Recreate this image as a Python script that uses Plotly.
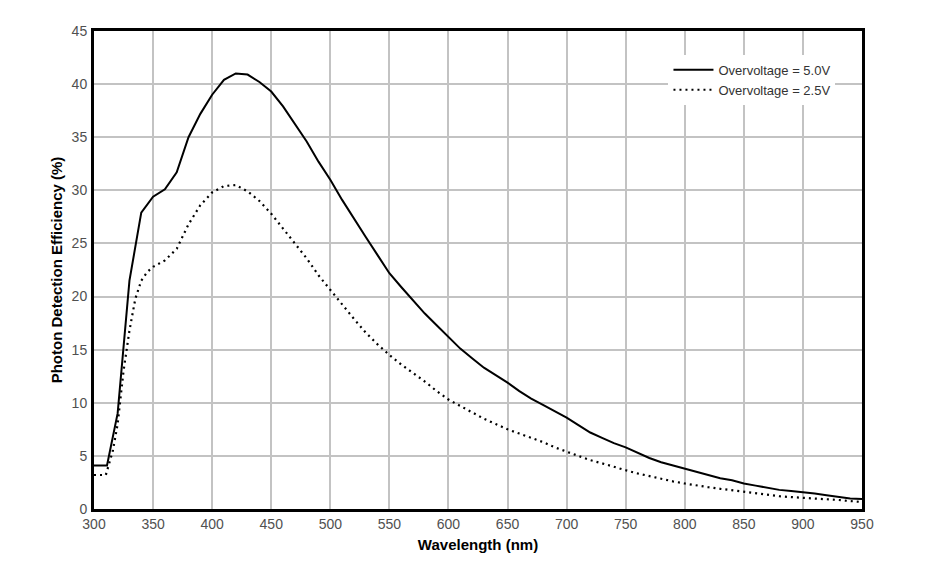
import plotly.graph_objects as go

# Wavelength (nm) and PDE (%) for Overvoltage = 5.0V (solid)
wl_5v = [300, 311, 320, 325, 330, 340, 350, 360, 370, 380, 390, 400, 410, 420, 430, 440,
         450, 460, 470, 480, 490, 500, 510, 520, 530, 540, 550, 560, 570, 580, 590, 600,
         610, 620, 630, 640, 650, 660, 670, 680, 690, 700, 710, 720, 730, 740, 750, 760,
         770, 780, 790, 800, 810, 820, 830, 840, 850, 860, 870, 880, 890, 900, 910, 920,
         930, 940, 950]
pde_5v = [4.1, 4.1, 9.0, 15.0, 21.5, 27.9, 29.4, 30.1, 31.7, 35.0, 37.2, 39.0, 40.4, 41.0, 40.9, 40.2,
          39.3, 37.9, 36.3, 34.6, 32.7, 31.0, 29.1, 27.3, 25.6, 23.9, 22.2, 20.9, 19.6, 18.4, 17.3, 16.2,
          15.1, 14.2, 13.3, 12.6, 11.9, 11.1, 10.4, 9.8, 9.2, 8.6, 7.9, 7.2, 6.7, 6.2, 5.8, 5.3,
          4.8, 4.4, 4.1, 3.8, 3.5, 3.2, 2.9, 2.7, 2.4, 2.2, 2.0, 1.8, 1.7, 1.6, 1.45, 1.3,
          1.15, 1.0, 0.95]

# Wavelength (nm) and PDE (%) for Overvoltage = 2.5V (dotted)
wl_25v = [300, 310, 316, 320, 325, 330, 335, 340, 345, 350, 360, 370, 380, 390, 400, 410,
          420, 430, 440, 450, 460, 470, 480, 490, 500, 510, 520, 530, 540, 550, 560, 570,
          580, 590, 600, 610, 620, 630, 640, 650, 660, 670, 680, 690, 700, 710, 720, 730,
          740, 750, 760, 770, 780, 790, 800, 810, 820, 830, 840, 850, 860, 870, 880, 890,
          900, 910, 920, 930, 940, 950]
pde_25v = [3.2, 3.2, 5.5, 8.0, 13.0, 16.8, 19.8, 21.5, 22.3, 22.8, 23.4, 24.5, 26.8, 28.6, 29.8, 30.4,
           30.5, 29.9, 29.0, 27.8, 26.4, 25.0, 23.6, 22.0, 20.6, 19.2, 17.9, 16.6, 15.5, 14.5, 13.6, 12.8,
           12.0, 11.1, 10.3, 9.7, 9.1, 8.5, 8.0, 7.5, 7.1, 6.7, 6.3, 5.8, 5.4, 5.0, 4.6, 4.3,
           3.95, 3.65, 3.35, 3.1, 2.8, 2.6, 2.4, 2.2, 2.05, 1.9, 1.75, 1.6, 1.45, 1.3, 1.2, 1.12,
           1.07, 1.0, 0.93, 0.85, 0.75, 0.66]

series_names = ["Overvoltage = 5.0V", "Overvoltage = 2.5V"]
x_ticks = list(range(300, 951, 50))
y_ticks = list(range(0, 46, 5))

fig = go.Figure()
fig.add_trace(go.Scatter(x=wl_5v, y=pde_5v, mode="lines", name=series_names[0],
                         line=dict(color="black", width=2)))
fig.add_trace(go.Scatter(x=wl_25v, y=pde_25v, mode="lines", name=series_names[1],
                         line=dict(color="black", width=2.2, dash="2px,4px")))

tick_font = dict(family="Liberation Sans, Arial, sans-serif", size=14, color="#505050")
title_font = dict(family="Liberation Sans, Arial, sans-serif", size=15, color="black")

fig.update_layout(
    width=930, height=569,
    margin=dict(l=86, r=76, t=23, b=68),
    paper_bgcolor="white", plot_bgcolor="white",
    showlegend=True,
    legend=dict(x=0.748, y=0.95, xanchor="left", yanchor="top",
                bgcolor="white", borderwidth=0,
                font=dict(family="Liberation Sans, Arial, sans-serif", size=13, color="#333333"),
                tracegroupgap=0, itemwidth=40),
    xaxis=dict(range=[300, 950], tickvals=x_ticks, ticktext=[str(v) for v in x_ticks],
               showgrid=True, gridcolor="#c3c3c3", gridwidth=2,
               showline=True, linecolor="black", linewidth=3, mirror=True,
               ticks="", tickfont=tick_font, zeroline=False,
               title=dict(text="<b>Wavelength (nm)</b>", font=title_font, standoff=9)),
    yaxis=dict(range=[0, 45], tickvals=y_ticks, ticktext=[str(v) for v in y_ticks],
               showgrid=True, gridcolor="#c3c3c3", gridwidth=2,
               showline=True, linecolor="black", linewidth=3, mirror=True,
               ticks="", tickfont=tick_font, zeroline=False, ticklabelstandoff=1,
               title=dict(text="<b>Photon Detection Efficiency (%)</b>", font=title_font, standoff=6)),
)

fig.write_html("out.html")
